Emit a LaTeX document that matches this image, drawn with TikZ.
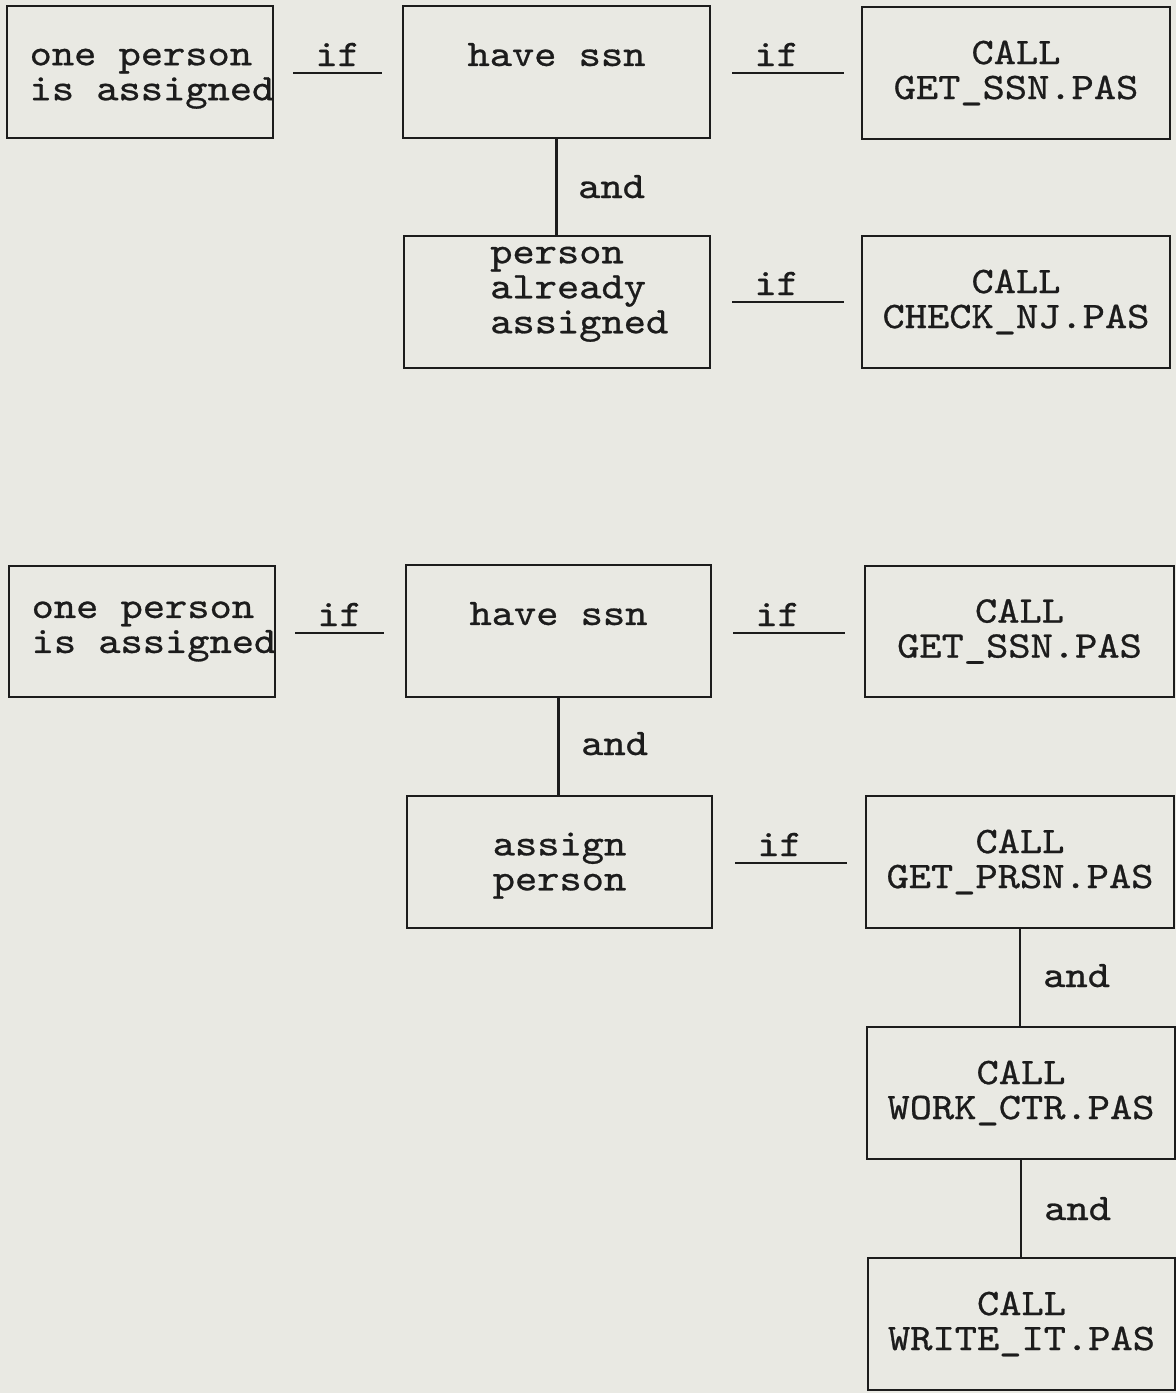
\documentclass[tikz,border=0pt]{standalone}
\usepackage{fontspec}
\newfontfamily\mono{lmmono10-regular}[Extension=.otf, FakeBold=0.7, FakeStretch=1.13]
\definecolor{bg}{RGB}{233,233,227}
\definecolor{ink}{RGB}{28,28,28}
\newcommand\tgap[1]{\rule{0pt}{#1}}
\newcommand\bgap[1]{\rule[-#1]{0pt}{#1}}
\newcommand\shiftln[2]{\leavevmode\kern#1\relax#2\kern-#1\relax}
\begin{document}
\begin{tikzpicture}[x=1pt,y=-1pt,
  txtfont/.style={font=\mono\fontsize{37.5}{35}\selectfont, text=ink},
  box/.style={txtfont, draw=ink, line width=2.5pt, rectangle, inner sep=0pt, minimum height=132pt},
  ifl/.style={txtfont, inner xsep=0pt, inner ysep=7pt, anchor=base west},
  andl/.style={txtfont, inner sep=0pt, anchor=base west},
  uline/.style={draw=ink, line width=2.2pt},
  conn/.style={draw=ink, line width=2.5pt}]
\fill[bg] (0,0) rectangle (1176,1393);
\useasboundingbox (0,0) rectangle (1176,1393);

% ---- top diagram ----
\node[box, minimum width=266pt, align=left] (A1) at (140,72)
  {\shiftln{12pt}{\tgap{30pt}one person}\\\shiftln{12pt}{is assigned}};
\node[box, minimum width=307pt, align=center] (B1) at (556.5,72) {have ssn\\\mbox{}};
\node[box, minimum width=308pt, align=center] (C1) at (1016,73) {CALL\\GET\_SSN.PAS};
\node[box, minimum width=306pt, align=left] (D1) at (557,302)
  {\phantom{xx}person\\\phantom{xx}already\\\phantom{xx}assigned\bgap{24pt}};
\node[box, minimum width=308pt, align=center] (E1) at (1016,302) {CALL\\CHECK\_NJ.PAS};

\node[ifl] (if1) at (293,66) {\phantom{x}if\phantom{x}};
\node[ifl] (if2) at (732,66) {\phantom{x}if\phantom{xx}};
\node[ifl] (if3) at (732,295) {\phantom{x}if\phantom{xx}};
\draw[uline] (if1.south west) -- (if1.south east);
\draw[uline] (if2.south west) -- (if2.south east);
\draw[uline] (if3.south west) -- (if3.south east);

\draw[conn] (B1.south) -- (B1.south |- D1.north);
\node[andl] (and1) at (578,198) {and};

% ---- bottom diagram ----
\node[box, minimum width=266pt, minimum height=131pt, align=left] (A2) at (142,631.5)
  {\shiftln{12pt}{one person}\\\shiftln{12pt}{is assigned}};
\node[box, minimum width=305pt, align=center] (B2) at (558.5,631) {have ssn\\\mbox{}};
\node[box, minimum width=309pt, minimum height=131pt, align=center] (C2) at (1019.5,631.5) {CALL\\GET\_SSN.PAS};
\node[box, minimum width=305pt, align=left] (D2) at (559.5,862) {\tgap{30pt}assign\\person};
\node[box, minimum width=308pt, align=center] (E2) at (1020,862) {CALL\\GET\_PRSN.PAS};
\node[box, minimum width=308pt, align=center] (F2) at (1021,1093) {CALL\\WORK\_CTR.PAS};
\node[box, minimum width=307pt, align=center] (G2) at (1021.5,1324) {CALL\\WRITE\_IT.PAS};

\node[ifl] (if4) at (295,626) {\phantom{x}if\phantom{x}};
\node[ifl] (if5) at (733,626) {\phantom{x}if\phantom{xx}};
\node[ifl] (if6) at (735,856) {\phantom{x}if\phantom{xx}};
\draw[uline] (if4.south west) -- (if4.south east);
\draw[uline] (if5.south west) -- (if5.south east);
\draw[uline] (if6.south west) -- (if6.south east);

\draw[conn] (B2.south) -- (B2.south |- D2.north);
\draw[conn] (E2.south) -- (E2.south |- F2.north);
\draw[conn] (F2.south) -- (F2.south |- G2.north);
\node[andl] (and2) at (581,755) {and};
\node[andl] (and3) at (1043,987) {and};
\node[andl] (and4) at (1044,1220) {and};
\end{tikzpicture}
\end{document}
